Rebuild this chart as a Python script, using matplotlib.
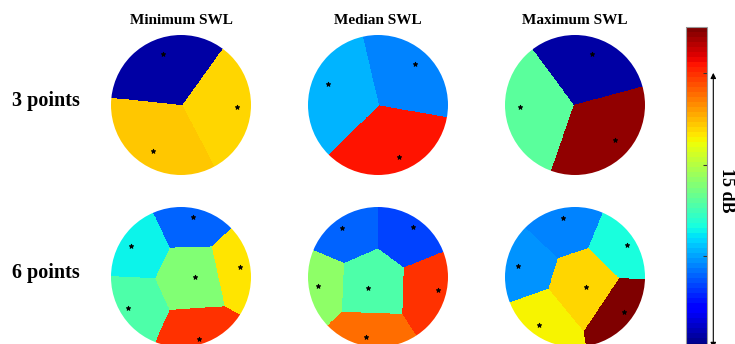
import numpy as np
import matplotlib
matplotlib.use("Agg")
import matplotlib.pyplot as plt
from matplotlib.patches import Circle
from matplotlib.colors import Normalize
from matplotlib.cm import ScalarMappable

col_titles = ["Minimum SWL", "Median SWL", "Maximum SWL"]
row_labels = ["3 points", "6 points"]

# sensor positions on the unit disc and sound power level of each region (dB)
min3_x = [-0.26, 0.80, -0.40]
min3_y = [0.73, -0.03, -0.66]
min3_db = [0.6, 11.8, 12.1]

med3_x = [0.53, -0.71, 0.30]
med3_y = [0.59, 0.30, -0.74]
med3_db = [4.4, 5.2, 15.5]

max3_x = [0.24, -0.79, 0.57]
max3_y = [0.73, -0.03, -0.50]
max3_db = [0.6, 8.2, 17.0]

min6_x = [0.17, -0.71, 0.84, 0.20, -0.76, 0.26]
min6_y = [0.86, 0.44, 0.14, 0.00, -0.44, -0.89]
min6_db = [4.1, 6.3, 11.5, 8.8, 7.9, 15.0]

med6_x = [-0.51, 0.50, -0.86, -0.14, 0.86, -0.17]
med6_y = [0.70, 0.71, -0.13, -0.16, -0.19, -0.86]
med6_db = [4.1, 3.5, 9.2, 7.8, 15.0, 13.8]

max6_x = [-0.17, 0.74, -0.81, 0.16, 0.70, -0.51]
max6_y = [0.84, 0.46, 0.16, -0.14, -0.50, -0.69]
max6_db = [4.4, 6.8, 4.9, 11.9, 17.5, 11.4]

db_min, db_max = 0.0, 17.5
cbar_ticks = [0, 5, 10, 15]
span_db = 15
span_label = "15 dB"

panels = [
    [(min3_x, min3_y, min3_db), (med3_x, med3_y, med3_db), (max3_x, max3_y, max3_db)],
    [(min6_x, min6_y, min6_db), (med6_x, med6_y, med6_db), (max6_x, max6_y, max6_db)],
]

W, H = 735, 344
fig = plt.figure(figsize=(W / 100, H / 100), dpi=100)
serif = ["Liberation Serif", "DejaVu Serif"]


def px_axes(x0, y0, w, h):
    return fig.add_axes([x0 / W, 1 - (y0 + h) / H, w / W, h / H])


cmap = plt.get_cmap("jet", 64)
norm = Normalize(db_min, db_max)

centers_x = [181, 378, 575]
centers_y = [105, 277]
R = 70
pad = 2
lim = (R + pad) / R
n = 600
g = np.linspace(-lim, lim, n)
GX, GY = np.meshgrid(g, g)

for r, row in enumerate(panels):
    for c, (px, py, db) in enumerate(row):
        ax = px_axes(centers_x[c] - R - pad, centers_y[r] - R - pad,
                     2 * (R + pad), 2 * (R + pad))
        px_a, py_a = np.asarray(px), np.asarray(py)
        d2 = (GX[..., None] - px_a) ** 2 + (GY[..., None] - py_a) ** 2
        Z = np.asarray(db)[np.argmin(d2, axis=-1)]
        im = ax.imshow(Z, origin="lower", extent=(-lim, lim, -lim, lim),
                       cmap=cmap, norm=norm, interpolation="nearest")
        disc = Circle((0, 0), 1.0, transform=ax.transData)
        im.set_clip_path(disc)
        ax.plot(px, py, "*", color="black", ms=3.5, mew=0.6)
        ax.set_xlim(-lim, lim)
        ax.set_ylim(-lim, lim)
        ax.set_aspect("equal")
        ax.axis("off")

for c, title in enumerate(col_titles):
    fig.text(centers_x[c] / W, 1 - 20 / H, title, ha="center", va="center",
             fontsize=11, fontweight="bold", family=serif)

for r, label in enumerate(row_labels):
    fig.text(12 / W, 1 - (centers_y[r] + 1) / H, label, ha="left", va="baseline",
             fontsize=14.5, fontweight="bold", family=serif)

# colour scale
cax = px_axes(686, 27, 21, 321)
sm = ScalarMappable(norm=norm, cmap=cmap)
cb = fig.colorbar(sm, cax=cax, ticks=cbar_ticks)
cb.ax.tick_params(direction="in", length=3, width=0.8, color="#333333",
                  right=True, left=False, labelright=False, labelleft=False)
cb.outline.set_edgecolor("#999999")
cb.outline.set_linewidth(0.8)

cax.annotate("", xy=(1.3, span_db), xytext=(1.3, 0),
             xycoords=("axes fraction", "data"),
             arrowprops=dict(arrowstyle="<|-|>", color="black", lw=0.8,
                             mutation_scale=8, shrinkA=0, shrinkB=0),
             annotation_clip=False)
fig.text(727 / W, 1 - 190 / H, span_label, rotation=-90, ha="center", va="center",
         fontsize=13, fontweight="bold", family=serif)

fig.savefig("out.png", dpi=100)
